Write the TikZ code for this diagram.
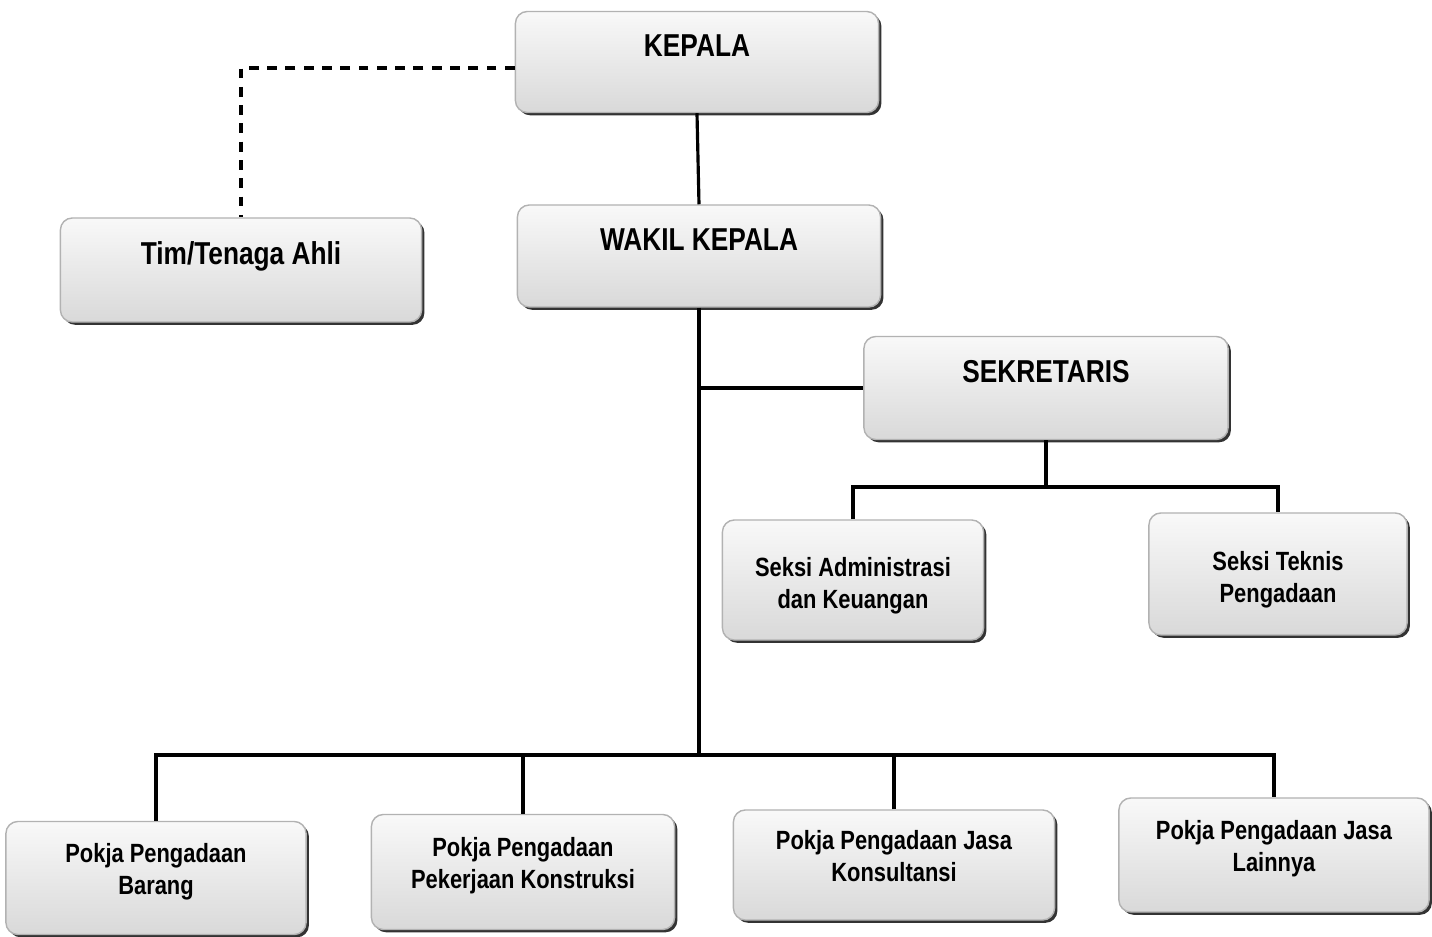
\documentclass[tikz,border=0pt]{standalone}
\usepackage{fontspec}
\newfontfamily\orgfont{Liberation Sans}[FakeStretch=0.83]
\usetikzlibrary{shadows}

\tikzset{
    unit/.style={draw=gray!60, line width=0.4pt, rounded corners=1.2mm,
        top color=gray!5, bottom color=gray!30, align=center, inner sep=0pt,
        drop shadow={shadow xshift=0.8pt, shadow yshift=-0.8pt, fill=black!80, opacity=1}},
    head/.style={unit, font=\orgfont\bfseries\fontsize{9}{11}\selectfont,
        text height=0.2cm, text depth=0.3cm},
    seksi/.style={unit, font=\orgfont\bfseries\fontsize{7.5}{9}\selectfont,
        text height=0.7cm, text depth=0.14cm},
    pokja/.style={seksi, text height=0.5cm, text depth=0.18cm},
    link/.style={line width=0.9pt},
}

\begin{document}
\begin{tikzpicture}[x=0.01cm, y=-0.01cm]
    \useasboundingbox (0,0) rectangle (1432,937);

    \node[head, minimum width=3.63cm, minimum height=1.01cm] (kepala) at (697,62) {KEPALA};
    \node[head, minimum width=3.61cm, minimum height=1.04cm] (tim) at (241,270) {Tim/Tenaga Ahli};
    \node[head, minimum width=3.63cm, minimum height=1.02cm] (wakil) at (699,256) {WAKIL KEPALA};
    \node[head, minimum width=3.64cm, minimum height=1.03cm] (sekretaris) at (1046,388) {SEKRETARIS};

    \node[seksi, minimum width=2.61cm, minimum height=1.2cm] (admin) at (853,580) {Seksi Administrasi\\dan Keuangan};
    \node[seksi, minimum width=2.58cm, minimum height=1.22cm] (teknis) at (1278,574) {Seksi Teknis\\Pengadaan};

    \node[pokja, minimum width=3.0cm, minimum height=1.13cm] (barang) at (156,878) {Pokja Pengadaan\\Barang};
    \node[pokja, minimum width=3.03cm, minimum height=1.15cm] (konstruksi) at (523,872) {Pokja Pengadaan\\Pekerjaan Konstruksi};
    \node[pokja, minimum width=3.21cm, minimum height=1.1cm] (konsultansi) at (894,865) {Pokja Pengadaan Jasa\\Konsultansi};
    \node[pokja, minimum width=3.1cm, minimum height=1.14cm] (lainnya) at (1274,855) {Pokja Pengadaan Jasa\\Lainnya};

    \coordinate (sekbus) at (1046,487);
    \coordinate (bus) at (699,755);

    \draw[link, dash pattern=on 2.8pt off 2.4pt] ([yshift=-0.6mm]kepala.west) -| (tim.north);
    \draw[link] (kepala.south) -- (wakil.north);
    \draw[link] (wakil.south) -- (bus);
    \draw[link] (wakil.south |- sekretaris.west) -- (sekretaris.west);
    \draw[link] (sekretaris.south) -- (sekbus);
    \draw[link] (admin.north) |- (sekbus) -| (teknis.north);
    \draw[link] (barang.north) |- (bus) -| (lainnya.north);
    \draw[link] (konstruksi.north) -- (konstruksi.north |- bus);
    \draw[link] (konsultansi.north) -- (konsultansi.north |- bus);
\end{tikzpicture}
\end{document}
